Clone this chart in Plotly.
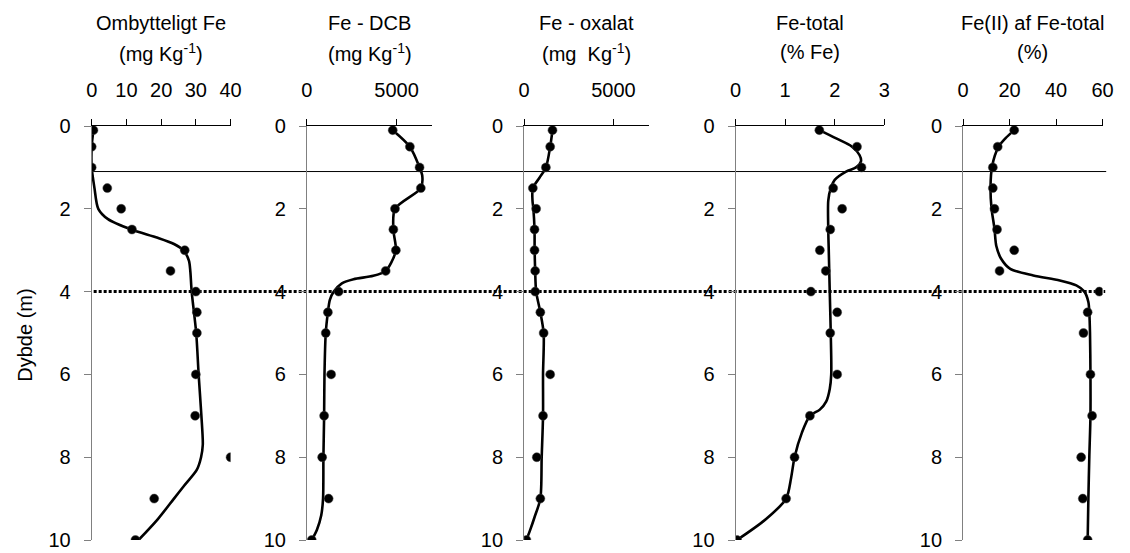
import plotly.graph_objects as go

# ---------------- data ----------------
depth = [0.1, 0.5, 1, 1.5, 2, 2.5, 3, 3.5, 4, 4.5, 5, 6, 7, 8, 9, 10]

omb_fe = [0.5, 0, 0, 4.5, 8.5, 11.6, 26.8, 22.7, 30, 30.3, 30.3, 30, 29.8, 40, 18, 12.6]
fe_dcb = [4783, 5740, 6280, 6350, 4910, 4820, 4960, 4390, 1770, 1170, 1050, 1350, 960, 850, 1210, 270]
fe_oxalat = [1590, 1460, 1220, 490, 675, 584, 584, 620, 620, 910, 1095, 1460, 1060, 710, 910, 130]
fe_total = [1.69, 2.45, 2.54, 1.97, 2.15, 1.91, 1.70, 1.82, 1.52, 2.05, 1.91, 2.05, 1.50, 1.19, 1.02, 0.03]
fe2_pct = [22, 14.9, 12.8, 12.8, 13.5, 14.6, 22, 15.7, 58.6, 53.6, 51.8, 54.8, 55.5, 50.8, 51.5, 53.6]

# fitted (smoothed) curves
c1_depth = [0.1, 0.5, 1.0, 1.5, 2.0, 2.25, 2.5, 2.7, 2.85, 3.0, 3.25, 3.5, 4.0, 5.0, 6.0, 7.0, 7.7, 8.0, 8.3, 8.7, 9.0, 9.5, 10.0]
c1_val = [0.5, 0, 0, 0.8, 1.9, 4.7, 11.4, 19, 23.7, 26.4, 28, 28.4, 28.8, 30.1, 30.8, 31.6, 32, 31.5, 30.3, 26.5, 23.7, 19, 13.5]

c2_depth = [0.1, 0.5, 1.0, 1.2, 1.5, 2.0, 2.5, 3.0, 3.3, 3.5, 3.62, 3.7, 3.8, 4.0, 4.2, 4.5, 5.0, 6.0, 7.0, 8.0, 9.0, 9.4, 9.75, 10.0]
c2_val = [4783, 5740, 6280, 6430, 6350, 4910, 4820, 4960, 4700, 4390, 3700, 2600, 1950, 1500, 1280, 1170, 1050, 980, 960, 920, 900, 800, 560, 270]

c3_depth = [0.1, 0.5, 1.0, 1.25, 1.5, 1.8, 2.0, 2.5, 3.0, 3.5, 4.0, 4.5, 5.0, 6.0, 7.0, 8.0, 9.0, 9.45, 9.75, 10]
c3_val = [1590, 1460, 1220, 860, 490, 470, 520, 584, 590, 620, 675, 910, 1095, 1060, 1060, 985, 910, 584, 347, 130]

c4_depth = [0.1, 0.3, 0.5, 0.7, 0.85, 1.0, 1.1, 1.3, 1.5, 1.8, 2.5, 3, 4, 5, 6, 6.35, 6.65, 6.85, 7.0, 7.4, 8.0, 8.5, 9.0, 9.5, 10]
c4_val = [1.69, 2.03, 2.35, 2.5, 2.53, 2.43, 2.23, 2.0, 1.92, 1.87, 1.87, 1.88, 1.9, 1.92, 1.93, 1.9, 1.83, 1.7, 1.5, 1.34, 1.19, 1.12, 1.02, 0.61, 0.03]

c5_depth = [0.1, 0.3, 0.5, 0.97, 1.47, 1.97, 2.48, 2.9, 3.2, 3.45, 3.61, 3.73, 3.85, 4.0, 4.25, 4.5, 5.0, 6.0, 7.0, 8.0, 9.0, 10.0]
c5_val = [22, 18.2, 15.3, 12.5, 11.8, 12.2, 13.5, 14.3, 16.3, 20.3, 30.2, 41.6, 48.7, 52.2, 53.9, 54.3, 54.6, 54.8, 54.8, 54.3, 53.9, 53.6]

titles1 = ["Ombytteligt Fe", "Fe - DCB", "Fe - oxalat", "Fe-total", "Fe(II) af Fe-total"]
titles2 = ["(mg Kg<sup>-1</sup>)", "(mg Kg<sup>-1</sup>)", "(mg&nbsp; Kg<sup>-1</sup>)", "(% Fe)", "(%)"]
x_ranges = [[0, 40], [0, 7000], [0, 7000], [0, 3], [0, 60]]
x_ticks = [[0, 10, 20, 30, 40], [0, 5000], [0, 5000], [0, 1, 2, 3], [0, 20, 40, 60]]
y_ticks = [0, 2, 4, 6, 8, 10]
solid_line_depth = 1.1
dotted_line_depth = 4.0
y_title = "Dybde (m)"

# ---------------- layout geometry ----------------
W, H = 1130, 553
TOP, BOT = 126, 540
panel_px = [(87, 228), (305.5, 433), (526, 653), (740.7, 891.7), (971.7, 1113.3)]
FONT = "Liberation Sans, Arial, sans-serif"
FS = 20


def py(ypx):
    return (BOT - ypx) / (BOT - TOP)


fig = go.Figure()
markers = [omb_fe, fe_dcb, fe_oxalat, fe_total, fe2_pct]
curves = [(c1_depth, c1_val), (c2_depth, c2_val), (c3_depth, c3_val), (c4_depth, c4_val), (c5_depth, c5_val)]

layout = dict(
    width=W, height=H,
    margin=dict(l=0, r=0, t=TOP, b=H - BOT, pad=0),
    paper_bgcolor="white", plot_bgcolor="white",
    showlegend=False,
    font=dict(family=FONT, size=FS, color="black"),
)
annotations = []
for i in range(5):
    n = i + 1
    xa = "x" if n == 1 else f"x{n}"
    ya = "y" if n == 1 else f"y{n}"
    cd, cv = curves[i]
    fig.add_trace(go.Scatter(x=cv, y=cd, mode="lines", xaxis=xa, yaxis=ya,
                             line=dict(color="black", width=2.6, shape="spline", smoothing=0.8),
                             hoverinfo="skip"))
    fig.add_trace(go.Scatter(x=markers[i], y=depth, mode="markers", xaxis=xa, yaxis=ya,
                             marker=dict(color="black", size=9, line=dict(color="#444", width=0.5))))
    x0, x1 = panel_px[i]
    layout[f"xaxis{n if n > 1 else ''}"] = dict(
        domain=[x0 / W, x1 / W], range=x_ranges[i], anchor=ya, side="top",
        tickvals=x_ticks[i], showline=True, linecolor="black", linewidth=1,
        ticks="outside", ticklen=6, tickcolor="black", tickwidth=1,
        showgrid=False, zeroline=False, ticklabelstandoff=14,
        tickfont=dict(family=FONT, size=FS, color="black"), fixedrange=True,
    )
    layout[f"yaxis{n if n > 1 else ''}"] = dict(
        domain=[0, 1], range=[10, 0], anchor=xa,
        tickvals=y_ticks, showline=True, linecolor="#808080", linewidth=1,
        ticks="outside", ticklen=7, tickcolor="#808080", tickwidth=1,
        showgrid=False, zeroline=False, ticklabelstandoff=9,
        tickfont=dict(family=FONT, size=FS, color="black"), fixedrange=True,
    )
    cx = (x0 + x1) / 2 / W
    annotations.append(dict(text=titles1[i], x=cx, y=py(23), xref="paper", yref="paper",
                            xanchor="center", yanchor="middle", showarrow=False,
                            font=dict(family=FONT, size=FS, color="black")))
    annotations.append(dict(text=titles2[i], x=cx, y=py(52), xref="paper", yref="paper",
                            xanchor="center", yanchor="middle", showarrow=False,
                            font=dict(family=FONT, size=FS, color="black")))

annotations.append(dict(text=y_title, x=19 / W, y=py(335), xref="paper", yref="paper",
                        xanchor="center", yanchor="middle", showarrow=False, textangle=-90,
                        font=dict(family=FONT, size=FS, color="black")))
layout["annotations"] = annotations
layout["shapes"] = [
    dict(type="line", xref="paper", yref="y", x0=87 / W, x1=1117 / W,
         y0=solid_line_depth, y1=solid_line_depth, line=dict(color="black", width=1), layer="below"),
    dict(type="line", xref="paper", yref="y", x0=89 / W, x1=1116 / W,
         y0=dotted_line_depth, y1=dotted_line_depth, line=dict(color="black", width=3, dash="3px,2px"),
         layer="below"),
]
fig.update_layout(**layout)
fig.write_html("out.html", config={"displayModeBar": False},
               post_script="document.body.style.margin='0px';")
